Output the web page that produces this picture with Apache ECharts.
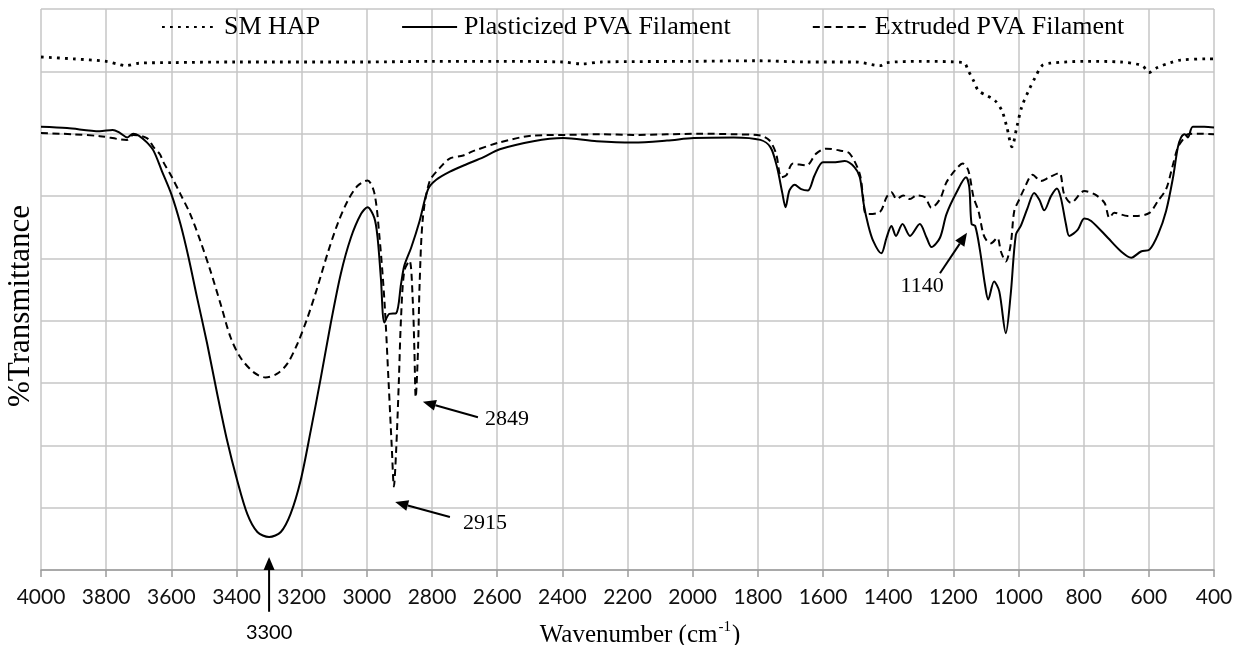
<!DOCTYPE html>
<html><head><meta charset="utf-8">
<script src="https://cdn.jsdelivr.net/npm/echarts@6/dist/echarts.min.js"></script>
<style>html,body{margin:0;padding:0;background:#fff}#c{width:1242px;height:645px}</style>
</head><body><div id="c"></div>
<script>
// ---- Data (wavenumber in cm-1, transmittance in arbitrary % units) ----
const xTicks = [4000,3800,3600,3400,3200,3000,2800,2600,2400,2200,2000,1800,1600,1400,1200,1000,800,600,400];

const wnSM = [4000,3900,3800,3760,3740,3700,3600,3400,3000,2800,2600,2400,2340,2280,2000,1800,1652,1500,1425,1405,1300,1169,1154,1138,1123,1097,1072,1051,1036,1020,1005,990,969,949,928,903,800,687,620,600,574,533,503,420,400];
const tSM  = [82.3,82.0,81.6,81.1,80.9,81.3,81.4,81.5,81.5,81.6,81.6,81.5,81.2,81.5,81.6,81.7,81.5,81.5,80.9,81.4,81.6,81.4,80.1,78.5,76.9,76.1,75.3,73.7,71.1,67.9,71.1,74.3,76.9,79.0,80.9,81.3,81.6,81.5,80.9,79.8,80.6,81.4,81.8,82.0,82.0];

const wnPlast = [4000,3920,3820,3780,3757,3735,3717,3700,3675,3654,3629,3600,3572,3547,3521,3490,3459,3429,3398,3367,3336,3300,3264,3234,3203,3172,3141,3111,3080,3049,3018,2998,2977,2967,2957,2946,2931,2910,2895,2885,2864,2838,2812,2787,2745,2694,2643,2592,2489,2397,2294,2182,2079,1997,1874,1792,1761,1741,1725,1715,1703,1687,1667,1646,1626,1600,1569,1533,1503,1487,1475,1462,1446,1421,1405,1390,1376,1356,1333,1303,1282,1267,1241,1221,1190,1161,1151,1144,1133,1118,1103,1093,1075,1059,1039,1024,1008,993,972,952,936,921,900,882,870,854,844,818,798,777,726,685,654,624,598,572,547,526,511,501,490,480,465,430,400];
const tPlast  = [71.1,70.9,70.4,70.6,70.1,69.4,70.0,69.7,68.6,67.2,64.0,60.3,55.5,50.1,43.7,36.3,28.2,20.8,14.4,9.0,6.1,5.3,6.1,9.0,14.4,22.4,30.9,39.5,47.5,53.3,57.1,58.2,56.5,53.3,46.9,39.7,41.1,41.2,45.9,48.8,51.7,56.0,61.1,62.6,63.9,65.1,66.2,67.5,68.8,69.3,68.8,68.6,68.9,69.3,69.4,69.0,67.8,64.6,60.5,58.2,60.9,61.8,61.1,60.9,63.3,65.4,65.4,65.6,64.6,63.0,58.7,55.5,52.8,50.8,53.3,55.2,53.6,55.5,53.6,55.5,53.3,51.8,53.3,57.1,60.6,63.0,61.4,55.5,55.2,51.2,45.8,43.4,46.3,44.7,38.0,44.2,53.8,55.2,58.1,60.5,59.4,57.7,60.0,61.2,59.7,55.4,53.6,54.6,56.4,56.0,53.3,51.1,50.1,51.1,51.4,53.8,57.6,62.9,67.8,69.4,69.9,69.4,71.1,71.1,71.0];

const wnExt = [4000,3900,3819,3736,3717,3675,3654,3635,3624,3598,3572,3542,3511,3480,3449,3418,3388,3347,3311,3275,3244,3213,3182,3152,3121,3090,3059,3029,2998,2977,2962,2946,2933,2923,2917,2910,2902,2895,2885,2869,2859,2854,2850,2843,2838,2828,2807,2776,2746,2704,2674,2592,2489,2387,2284,2182,2079,1976,1874,1792,1764,1744,1728,1713,1692,1651,1621,1590,1549,1518,1487,1477,1467,1426,1405,1390,1374,1354,1333,1313,1287,1267,1241,1221,1195,1171,1154,1138,1123,1108,1097,1085,1065,1054,1039,1024,1013,998,983,957,931,906,875,860,839,798,767,736,721,706,665,634,598,572,547,531,511,495,480,449,400];
const tExt  = [70.1,69.9,69.6,69.0,69.8,69.3,67.8,66.7,65.4,63.0,60.3,57.1,52.8,48.0,42.7,37.3,34.1,31.7,30.9,31.5,33.1,36.3,40.5,45.3,50.7,55.5,59.2,61.6,62.5,60.5,53.9,43.2,29.9,19.2,13.4,19.2,29.9,40.5,48.0,49.6,43.2,35.2,27.7,35.2,45.9,56.5,62.4,64.5,66.0,66.5,67.2,68.6,69.7,69.8,69.9,69.8,69.9,70.0,69.9,69.7,68.9,66.8,63.0,63.3,65.2,64.9,66.8,67.6,67.3,66.8,63.5,59.8,57.1,57.4,59.8,60.6,59.5,60.1,59.5,60.1,59.8,58.1,59.5,62.2,64.1,65.2,64.1,59.8,57.6,53.9,52.8,52.4,53.3,51.1,49.5,52.2,57.6,59.4,61.1,63.4,62.4,63.0,63.7,60.3,58.9,60.8,60.3,58.9,56.5,57.3,56.8,56.8,57.3,59.2,61.1,64.0,67.8,69.1,69.9,70.0,69.9];

// Annotations: label, arrow tip [wn, T], arrow tail [wn, T], label anchor [wn, T]
const annLabels = ['3300','2915','2849','1140'];
const annTip  = [[3300,2.1],[2913,10.9],[2828,27.0],[1158,54.1]];
const annTail = [[3300,-6.7],[2745,8.5],[2659,24.5],[1241,47.6]];
const annText = [[3300,-10.0],[2637,7.5],[2570,24.2],[1296,45.6]];

const pairs = (xs, ys) => xs.map((x, i) => [x, ys[i]]);

const SERIF = '"Liberation Serif","Times New Roman",serif';
const SANS = 'Lato,"Open Sans",sans-serif';

const chart = echarts.init(document.getElementById('c'), null, {renderer: 'canvas'});

const option = {
  animation: false,
  backgroundColor: '#fff',
  grid: {left: 41, right: 28, top: 9, bottom: 75, containLabel: false},
  legend: {
    left: 156, top: 9, itemWidth: 55, itemHeight: 26, itemGap: 81,
    itemStyle: {opacity: 0},
    textStyle: {fontFamily: SERIF, fontSize: 26, color: '#000', lineHeight: 26, padding: [0,0,0,2]},
    data: ['SM HAP', 'Plasticized PVA Filament', 'Extruded PVA Filament']
  },
  xAxis: {
    type: 'value', min: 400, max: 4000, interval: 200, inverse: true,
    axisLine: {show: true, lineStyle: {color: '#9a9a9a', width: 1.5}},
    axisTick: {show: true, length: 7, inside: false, lineStyle: {color: '#9a9a9a', width: 1.5}},
    axisLabel: {color: '#111', fontFamily: SANS, fontSize: 21, margin: 17,
      formatter: v => xTicks.includes(v) ? String(v) : ''},
    splitLine: {show: true, lineStyle: {color: '#c6c6c6', width: 1.5}}
  },
  yAxis: {
    type: 'value', min: 0, max: 90, interval: 10,
    axisLine: {show: false}, axisTick: {show: false}, axisLabel: {show: false},
    splitLine: {show: true, lineStyle: {color: '#c6c6c6', width: 1.5}}
  },
  series: [
    {name: 'SM HAP', type: 'line', symbol: 'none', smooth: 0.3, data: pairs(wnSM, tSM),
     lineStyle: {color: '#000', width: 2.8, type: [2.8, 5.2]}, itemStyle: {color: '#000'}},
    {name: 'Plasticized PVA Filament', type: 'line', symbol: 'none', smooth: 0.3, data: pairs(wnPlast, tPlast),
     lineStyle: {color: '#000', width: 2}, itemStyle: {color: '#000'}},
    {name: 'Extruded PVA Filament', type: 'line', symbol: 'none', smooth: 0.3, data: pairs(wnExt, tExt),
     lineStyle: {color: '#000', width: 2, type: [7, 4.5]}, itemStyle: {color: '#000'}}
  ]
};
chart.setOption(option);

// Annotations positioned through the chart's own scales
const g = [];
const px = p => chart.convertToPixel({gridIndex: 0}, p);
annLabels.forEach((lab, i) => {
  const a = px(annTail[i]), b = px(annTip[i]);
  const dx = b[0]-a[0], dy = b[1]-a[1], L = Math.hypot(dx, dy);
  const ux = dx/L, uy = dy/L, head = 13, half = 5.5;
  const bx = b[0]-ux*head, by = b[1]-uy*head;
  g.push({type: 'line', shape: {x1: a[0], y1: a[1], x2: bx, y2: by}, style: {stroke: '#000', lineWidth: 2}, z: 100});
  g.push({type: 'polygon', shape: {points: [[b[0], b[1]], [bx - uy*half, by + ux*half], [bx + uy*half, by - ux*half]]},
          style: {fill: '#000'}, z: 100});
  const t = px(annText[i]);
  g.push({type: 'text', x: t[0], y: t[1], z: 100,
          style: {text: lab, fill: '#000', align: 'center', verticalAlign: 'middle',
                  font: (i === 0 ? '20px ' + SANS : '22px ' + SERIF)}});
});
// Axis titles
g.push({type: 'text', x: 21, y: 306, rotation: Math.PI/2, z: 100,
        style: {text: '%Transmittance', fill: '#000', align: 'center', verticalAlign: 'middle', font: '31px ' + SERIF}});
g.push({type: 'text', x: 640, y: 634, z: 100,
        style: {text: '{a|Wavenumber (cm}{s|-1}{a|)}', align: 'center', verticalAlign: 'middle',
          rich: {a: {fontFamily: SERIF, fontSize: 25, fill: '#000', lineHeight: 28, verticalAlign: 'bottom'},
                 s: {fontFamily: SERIF, fontSize: 15, fill: '#000', lineHeight: 28, verticalAlign: 'top', padding: [0,1,0,1]}}}});
chart.setOption({graphic: g});
</script></body></html>
